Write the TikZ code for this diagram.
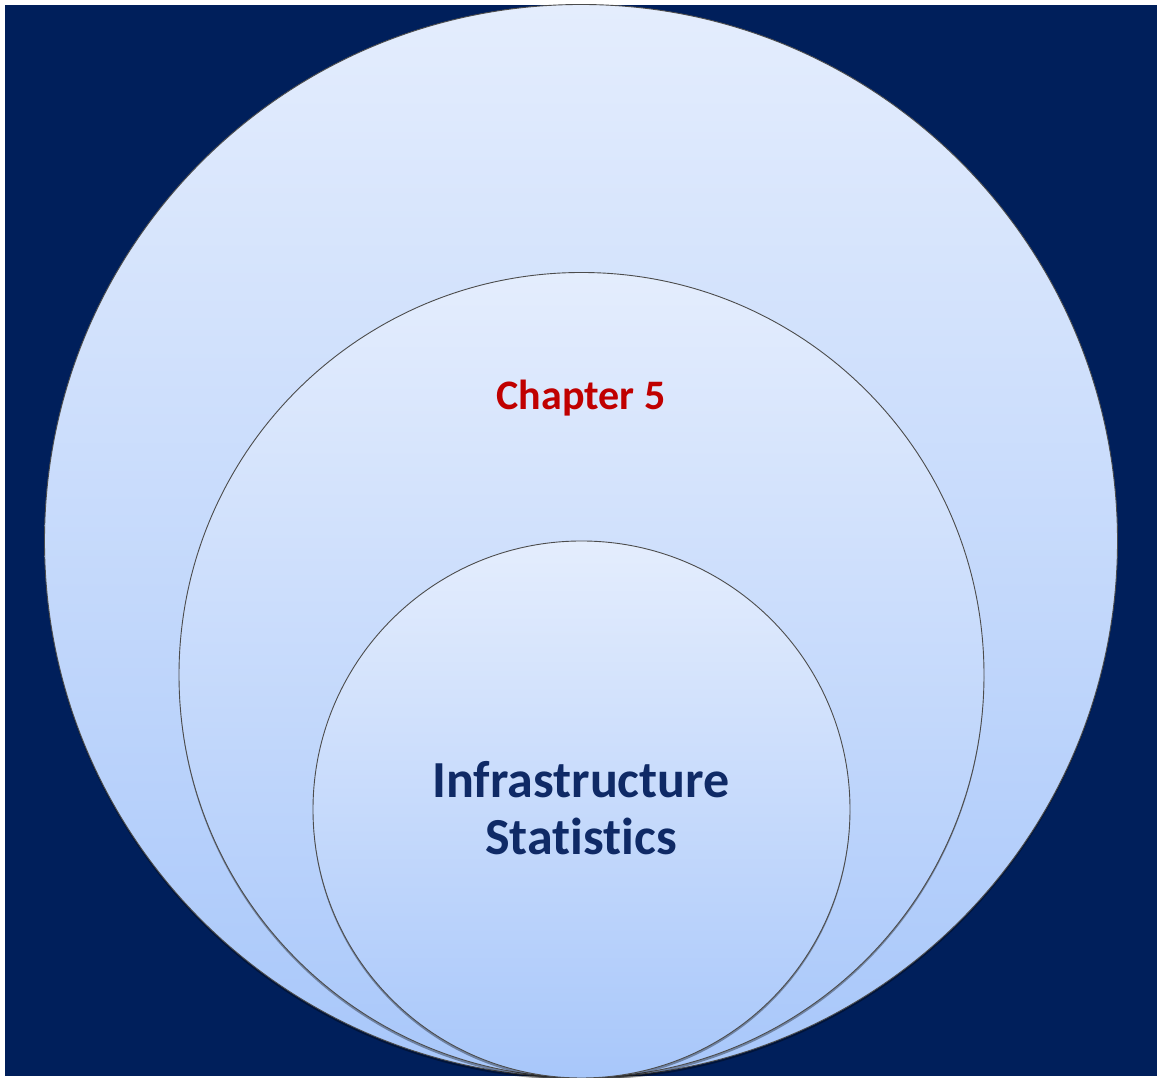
\documentclass[tikz,border=0pt]{standalone}
\usepackage{fontspec}
\setmainfont[Ligatures=NoCommon]{Carlito}
\usetikzlibrary{shadows}
\definecolor{navybg}{HTML}{001F5B}
\definecolor{discTop}{HTML}{E4EDFD}
\definecolor{discBottom}{HTML}{A8C7FA}
\definecolor{chapRed}{HTML}{C00000}
\definecolor{titleNavy}{HTML}{0F2A66}
\tikzset{
  disc/.style={draw=black!70, line width=0.9pt, top color=discTop, bottom color=discBottom,
    drop shadow={opacity=0.35, shadow xshift=0pt, shadow yshift=-2.5pt, fill=black}},
  chaptext/.style={font=\bfseries\fontsize{42}{50}\selectfont, text=chapRed, anchor=base},
  titletext/.style={font=\bfseries\fontsize{52}{58}\selectfont, text=titleNavy, anchor=base}
}
\begin{document}
\begin{tikzpicture}[x=1pt,y=1pt]
  % page and dark panel
  \fill[white] (0,0) rectangle (1157,1078);
  \useasboundingbox (0,0) rectangle (1157,1078);
  \fill[navybg] (5,2) rectangle (1157,1073);
  % nested discs, all resting on the same bottom point
  \path[disc] (581,537) circle[radius=536.5];
  \path[disc] (581.5,403) circle[radius=402.5];
  \path[disc] (581.5,268.5) circle[radius=268.5];
  % labels
  \node[chaptext] (chap) at (581,668) {Chapter 5};
  \node[titletext] (infra) at (581,280) {Infrastructure};
  \node[titletext] (stats) at (581,223) {Statistics};
\end{tikzpicture}
\end{document}
